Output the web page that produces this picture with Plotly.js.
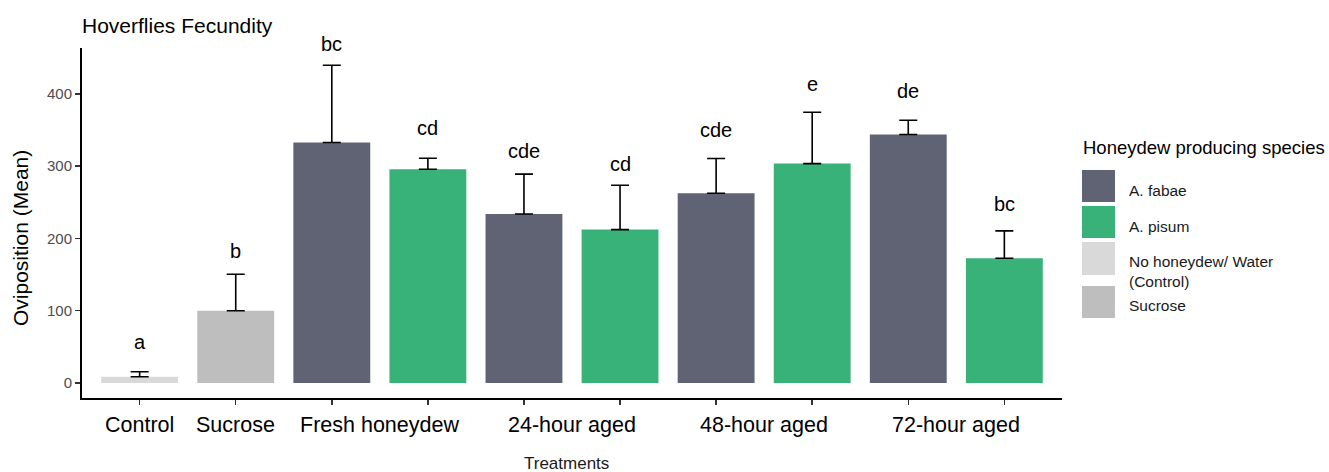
<!DOCTYPE html>
<html><head><meta charset="utf-8">
<script src="https://cdn.plot.ly/plotly-3.0.1.min.js"></script>
<style>html,body{margin:0;padding:0;background:#fff}#chart{width:1329px;height:472px}</style>
</head><body><div id="chart"></div>
<script>
// ---- data ----
const treatments = ["Control", "Sucrose", "Fresh honeydew", "24-hour aged", "48-hour aged", "72-hour aged"];
const barTreatment = ["Control", "Sucrose", "Fresh honeydew", "Fresh honeydew", "24-hour aged", "24-hour aged", "48-hour aged", "48-hour aged", "72-hour aged", "72-hour aged"];
const barSpecies = ["No honeydew/ Water (Control)", "Sucrose", "A. fabae", "A. pisum", "A. fabae", "A. pisum", "A. fabae", "A. pisum", "A. fabae", "A. pisum"];
const meanOviposition = [8.7, 100, 332.6, 295.7, 233.9, 212.2, 262.5, 303.5, 343.7, 172.6];
const errorUpper = [6.9, 50.4, 107, 15.3, 55, 61.4, 48, 71.1, 19.8, 37.8];
const letters = ["a", "b", "bc", "cd", "cde", "cd", "cde", "e", "de", "bc"];
const letterY = [47, 172, 459, 342, 310, 292, 340, 403, 393, 237];
const speciesOrder = ["A. fabae", "A. pisum", "No honeydew/ Water (Control)", "Sucrose"];
const speciesLegendText = ["A. fabae", "A. pisum", "No honeydew/ Water<br>(Control)", "Sucrose"];
const speciesColors = ["#606373", "#38b278", "#d9d9d9", "#bebebe"];
const yTicks = [0, 100, 200, 300, 400];

// ---- layout helpers ----
const FONT = "Liberation Sans, Arial, sans-serif";
const L = 82, T = 48, W = 980, H = 350;
const pxX = px => (px - L) / W;
const pxY = py => (T + H - py) / H;
const barPos = barTreatment.map((_, i) => i + 1);

const traces = speciesOrder.map((sp, k) => {
  const idx = barSpecies.map((s, i) => s === sp ? i : -1).filter(i => i >= 0);
  return {
    type: "bar",
    name: sp,
    x: idx.map(i => barPos[i]),
    y: idx.map(i => meanOviposition[i]),
    width: 0.8,
    marker: {color: speciesColors[k], line: {width: 0}},
    error_y: {type: "data", symmetric: false, array: idx.map(i => errorUpper[i]),
              arrayminus: idx.map(() => 0), color: "#000", thickness: 1.6, width: 9},
    showlegend: false,
    hoverinfo: "x+y"
  };
});

const annotations = [];
// significance letters
letters.forEach((t, i) => annotations.push({
  x: barPos[i], y: letterY[i], xref: "x", yref: "y", text: t, showarrow: false,
  xanchor: "center", yanchor: "bottom", yshift: -5.5,
  font: {family: FONT, size: 20, color: "#000"}
}));
// group tick labels
treatments.forEach(tr => {
  const ps = barPos.filter((_, i) => barTreatment[i] === tr);
  const cx = ps.reduce((a, b) => a + b, 0) / ps.length;
  annotations.push({x: cx, y: pxY(425), xref: "x", yref: "paper", text: tr, showarrow: false,
    xanchor: "center", yanchor: "middle", font: {family: FONT, size: 21.5, color: "#000"}});
});
// axis titles
annotations.push({x: pxX(566), y: pxY(463), xref: "paper", yref: "paper", text: "Treatments",
  showarrow: false, xanchor: "center", yanchor: "middle", font: {family: FONT, size: 17, color: "#1a1a1a"}});
annotations.push({x: pxX(20), y: pxY(238), xref: "paper", yref: "paper", text: "Oviposition (Mean)",
  showarrow: false, textangle: -90, xanchor: "center", yanchor: "middle", font: {family: FONT, size: 21, color: "#000"}});
// legend
annotations.push({x: pxX(1081), y: pxY(147), xref: "paper", yref: "paper", text: "Honeydew producing species",
  showarrow: false, xanchor: "left", yanchor: "middle", font: {family: FONT, size: 18.5, color: "#000"}});
const swTop = [170, 206, 242, 286], swBot = [202, 238, 275, 318], labY = [190.7, 226, 271.7, 305];
const shapes = [];
speciesOrder.forEach((sp, k) => {
  shapes.push({type: "rect", xref: "paper", yref: "paper", x0: pxX(1082), x1: pxX(1115),
    y0: pxY(swBot[k]), y1: pxY(swTop[k]), fillcolor: speciesColors[k], line: {width: 0}});
  annotations.push({x: pxX(1127), y: pxY(labY[k]), xref: "paper", yref: "paper", text: speciesLegendText[k],
    showarrow: false, xanchor: "left", yanchor: "middle", align: "left",
    font: {family: FONT, size: 15.5, color: "#1a1a1a"}});
});

const layout = {
  width: 1329, height: 472,
  margin: {l: L, r: 1329 - L - W, t: T, b: 472 - T - H},
  paper_bgcolor: "#fff", plot_bgcolor: "#fff",
  font: {family: FONT},
  title: {text: "Hoverflies Fecundity", x: 0, xref: "paper", xanchor: "left", y: 1 - 26 / 472, yanchor: "middle",
          font: {family: FONT, size: 21, color: "#000"}},
  xaxis: {range: [0.4, 10.6], tickmode: "array", tickvals: barPos, ticktext: barPos.map(() => ""),
          ticks: "outside", ticklen: 5, tickwidth: 1.5, tickcolor: "#333",
          showline: true, linecolor: "#000", linewidth: 2, showgrid: false, zeroline: false, fixedrange: true},
  yaxis: {range: [-20.7, 463.4], tickmode: "array", tickvals: yTicks, ticktext: yTicks.map(String),
          ticks: "outside", ticklen: 5, tickwidth: 1.5, tickcolor: "#333", ticklabelstandoff: 0,
          tickfont: {family: FONT, size: 15, color: "#4d4d4d"},
          showline: true, linecolor: "#000", linewidth: 2, showgrid: false, zeroline: false, fixedrange: true},
  barmode: "overlay",
  showlegend: false,
  annotations: annotations,
  shapes: shapes
};

Plotly.newPlot("chart", traces, layout, {displayModeBar: false, staticPlot: true});
</script>
</body></html>
